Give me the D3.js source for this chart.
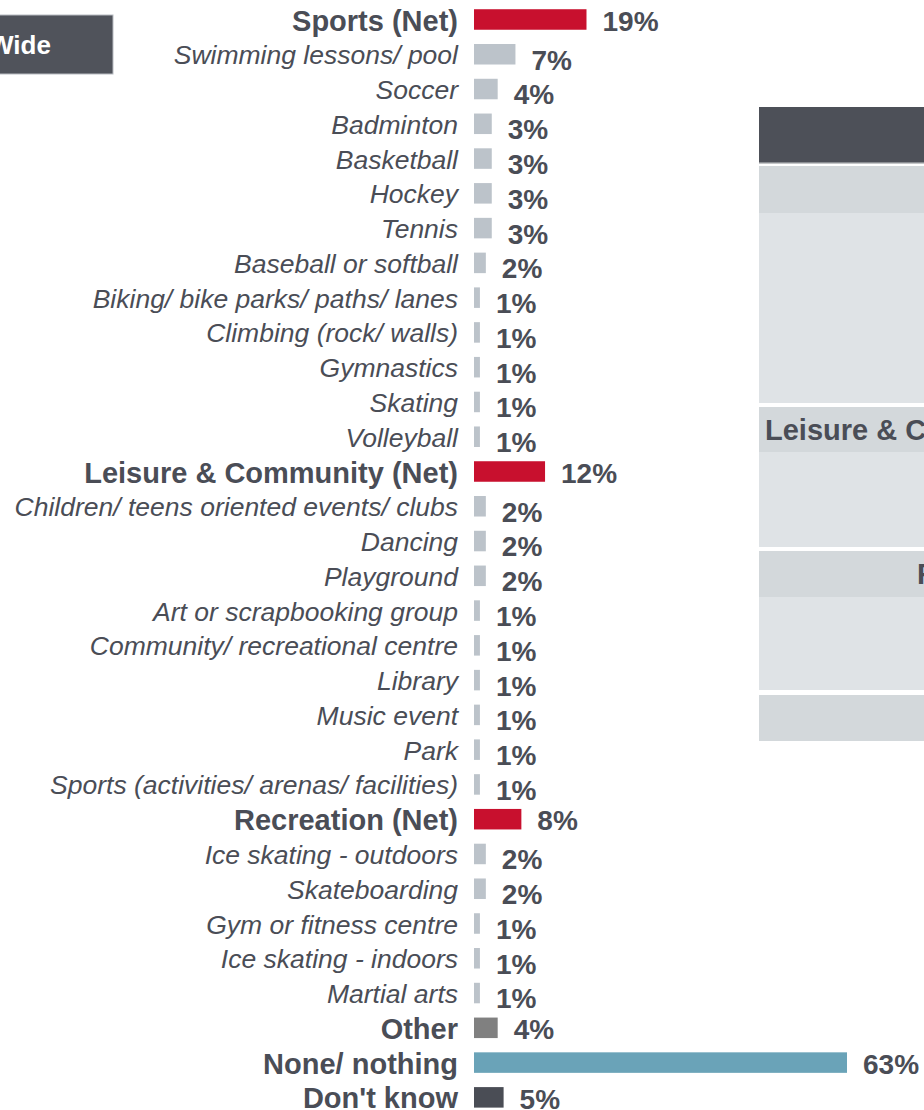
<!DOCTYPE html>
<html>
<head>
<meta charset="utf-8">
<script src="https://cdn.jsdelivr.net/npm/d3@7"></script>
<style>
  html, body { margin: 0; padding: 0; background: #fff; }
  svg { display: block; font-family: "Liberation Sans", Arial, sans-serif; }
</style>
</head>
<body>
<div id="chart"></div>
<script>
// categories, top to bottom
const categories = [
    "Sports (Net)", "Swimming lessons/ pool", "Soccer", "Badminton", "Basketball",
    "Hockey", "Tennis", "Baseball or softball", "Biking/ bike parks/ paths/ lanes",
    "Climbing (rock/ walls)", "Gymnastics", "Skating", "Volleyball",
    "Leisure & Community (Net)", "Children/ teens oriented events/ clubs", "Dancing",
    "Playground", "Art or scrapbooking group", "Community/ recreational centre",
    "Library", "Music event", "Park", "Sports (activities/ arenas/ facilities)",
    "Recreation (Net)", "Ice skating - outdoors", "Skateboarding",
    "Gym or fitness centre", "Ice skating - indoors", "Martial arts",
    "Other", "None/ nothing", "Don't know"
];
// percent values
const values = [
    19, 7, 4, 3, 3, 3, 3, 2, 1, 1, 1, 1, 1,
    12, 2, 2, 2, 1, 1, 1, 1, 1, 1,
    8, 2, 2, 1, 1, 1,
    4, 63, 5
];
// row type: net, sub, other, none, dk
const kinds = [
    "net", "sub", "sub", "sub", "sub", "sub", "sub", "sub", "sub", "sub", "sub", "sub", "sub",
    "net", "sub", "sub", "sub", "sub", "sub", "sub", "sub", "sub", "sub",
    "net", "sub", "sub", "sub", "sub", "sub",
    "other", "none", "dk"
];
// partly visible side table rows
const tableRows = ["Sports (Net)", "Leisure & Community (Net)", "Recreation (Net)", ""];

const width = 924, height = 1110;
const textColor = "#4a4d56";
const barColor = {
    net: "#c8102e", sub: "#bcc3ca", other: "#808080", none: "#6aa3b8", dk: "#4a4d55"
};

const rows = categories.map((c, i) => ({ name: c, value: values[i], kind: kinds[i] }));

const svg = d3.select("#chart").append("svg")
    .attr("width", width)
    .attr("height", height);

const x = d3.scaleLinear().domain([0, 63]).range([474, 847]);
const y = d3.scaleBand()
    .domain(categories)
    .range([2.1, 2.1 + 34.77 * categories.length])
    .paddingInner(0.41)
    .paddingOuter(0.205);

// side table (cut off on the right)
const table = svg.append("g");
table.append("rect").attr("x", 759).attr("y", 107).attr("width", 200).attr("height", 55).attr("fill", "#4d5058");
table.append("rect").attr("x", 759).attr("y", 162).attr("width", 200).attr("height", 1.5).attr("fill", "#8a8d92");
const blocks = [
    { top: 166, head: 47, body: 190 },
    { top: 407, head: 45, body: 95 },
    { top: 551, head: 46, body: 93 },
    { top: 695, head: 46, body: 0 }
];
blocks.forEach(b => {
    table.append("rect").attr("x", 759).attr("y", b.top).attr("width", 200).attr("height", b.head).attr("fill", "#d3d8db");
    if (b.body > 0) {
        table.append("rect").attr("x", 759).attr("y", b.top + b.head).attr("width", 200).attr("height", b.body).attr("fill", "#dfe3e6");
    }
});
table.append("text")
    .attr("x", 765).attr("y", 440)
    .attr("font-size", 29).attr("font-weight", "bold")
    .attr("fill", textColor)
    .text(tableRows[1]);
table.append("text")
    .attr("x", 917).attr("y", 584)
    .attr("font-size", 29).attr("font-weight", "bold")
    .attr("fill", textColor)
    .text(tableRows[2]);

// "Wide" tag on the left
svg.append("rect").attr("x", -2).attr("y", 15).attr("width", 115).attr("height", 59)
    .attr("fill", "#50535b").attr("stroke", "#b8bcc2").attr("stroke-width", 1);
svg.append("text")
    .attr("x", -11).attr("y", 54)
    .attr("font-size", 26).attr("font-weight", "bold")
    .attr("fill", "#fff")
    .text("Wide");

// bars
svg.append("g")
    .selectAll("rect")
    .data(rows)
    .enter()
    .append("rect")
    .attr("x", x(0))
    .attr("y", d => y(d.name))
    .attr("width", d => x(d.value) - x(0))
    .attr("height", y.bandwidth())
    .attr("fill", d => barColor[d.kind]);

// category labels
svg.append("g")
    .selectAll("text")
    .data(rows)
    .enter()
    .append("text")
    .attr("x", 458)
    .attr("y", d => y(d.name) + y.bandwidth() / 2)
    .attr("dy", "0.38em")
    .attr("text-anchor", "end")
    .attr("fill", textColor)
    .attr("font-size", d => d.kind === "sub" ? 26.5 : 29)
    .attr("font-style", d => d.kind === "sub" ? "italic" : "normal")
    .attr("font-weight", d => d.kind === "sub" ? "normal" : "bold")
    .text(d => d.name);

// value labels
svg.append("g")
    .selectAll("text")
    .data(rows)
    .enter()
    .append("text")
    .attr("x", d => x(d.value) + 16)
    .attr("y", d => y(d.name) + y.bandwidth() / 2)
    .attr("dy", d => d.kind === "sub" ? "0.55em" : "0.4em")
    .attr("fill", textColor)
    .attr("font-size", 28)
    .attr("font-weight", "bold")
    .text(d => d.value + "%");
</script>
</body>
</html>
